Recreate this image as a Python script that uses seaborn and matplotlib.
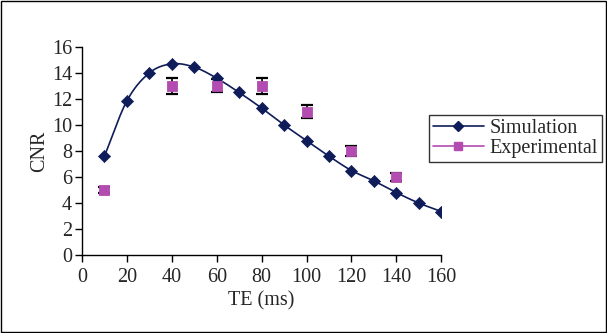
import numpy as np
import pandas as pd
import matplotlib
matplotlib.use('Agg')
import matplotlib.pyplot as plt
from matplotlib.patches import Rectangle
from matplotlib.lines import Line2D
import seaborn as sns

# Datos
te_sim = [10, 20, 30, 40, 50, 60, 70, 80, 90, 100, 110, 120, 130, 140, 150, 160]
cnr_sim = [7.6, 11.85, 14.0, 14.7, 14.45, 13.6, 12.5, 11.3, 10.0, 8.8,
           7.6, 6.5, 5.7, 4.8, 4.0, 3.35]

te_exp = [10, 40, 60, 80, 100, 120, 140]
cnr_exp = [5.0, 13.0, 13.0, 13.0, 11.0, 8.0, 6.0]
err_exp = [0.2, 0.6, 0.5, 0.6, 0.5, 0.4, 0.3]

x_ticks = [0, 20, 40, 60, 80, 100, 120, 140, 160]
y_ticks = [0, 2, 4, 6, 8, 10, 12, 14, 16]

SIM_COLOR = '#0f1c5a'
EXP_COLOR = '#b24cb0'
FS = 14.5

sns.set_style('ticks')
plt.rcParams['font.family'] = ['Liberation Serif', 'DejaVu Serif']


# Curva suavizada tipo Excel (Catmull-Rom) solo para el trazo de la linea
def suavizar(x, y, n=20):
    x = np.asarray(x, float)
    y = np.asarray(y, float)
    px = np.concatenate([[2 * x[0] - x[1]], x, [2 * x[-1] - x[-2]]])
    py = np.concatenate([[2 * y[0] - y[1]], y, [2 * y[-1] - y[-2]]])
    xs, ys = [], []
    t = np.linspace(0, 1, n, endpoint=False)
    for i in range(1, len(px) - 2):
        for arr, out in ((px, xs), (py, ys)):
            p0, p1, p2, p3 = arr[i - 1], arr[i], arr[i + 1], arr[i + 2]
            out.extend(0.5 * (2 * p1 + (-p0 + p2) * t
                              + (2 * p0 - 5 * p1 + 4 * p2 - p3) * t ** 2
                              + (-p0 + 3 * p1 - 3 * p2 + p3) * t ** 3))
    xs.append(x[-1])
    ys.append(y[-1])
    return np.array(xs), np.array(ys)


df_sim = pd.DataFrame({'TE': te_sim, 'CNR': cnr_sim})
df_exp = pd.DataFrame({'TE': te_exp, 'CNR': cnr_exp, 'err': err_exp})
xs, ys = suavizar(te_sim, cnr_sim)
df_curve = pd.DataFrame({'TE': xs, 'CNR': ys})

fig = plt.figure(figsize=(6.07, 3.33), dpi=100)
ax = fig.add_axes([0.135, 0.234, 0.592, 0.625])

sns.lineplot(data=df_curve, x='TE', y='CNR', ax=ax, color=SIM_COLOR,
             linewidth=1.2, sort=False, estimator=None)
sns.scatterplot(data=df_sim, x='TE', y='CNR', ax=ax, marker='D', s=38,
                color=SIM_COLOR, edgecolor=SIM_COLOR, zorder=4)

ax.errorbar(df_exp['TE'], df_exp['CNR'], yerr=df_exp['err'], fmt='none',
            ecolor='black', elinewidth=1.2, capsize=4, capthick=1.6, zorder=3)
sns.scatterplot(data=df_exp, x='TE', y='CNR', ax=ax, marker='s', s=55,
                color=EXP_COLOR, edgecolor=EXP_COLOR, zorder=5)

ax.set_xlim(0, 160)
ax.set_ylim(0, 16)
ax.set_xticks(x_ticks)
ax.set_yticks(y_ticks)
ax.tick_params(axis='both', labelsize=FS, length=5, width=1, color='black',
               direction='out', pad=2)
ax.tick_params(axis='x', pad=4)
ax.set_xlabel('TE (ms)', fontsize=FS, labelpad=3)
ax.set_ylabel('CNR', fontsize=FS, labelpad=2)
for s in ['top', 'right']:
    ax.spines[s].set_visible(False)
for s in ['left', 'bottom']:
    ax.spines[s].set_color('black')
    ax.spines[s].set_linewidth(1)
ax.margins(0)

handles = [
    Line2D([], [], color=SIM_COLOR, marker='D', markersize=5, linewidth=1.2),
    Line2D([], [], color=EXP_COLOR, marker='s', markersize=6, linewidth=1.2),
]
leg = fig.legend(handles, ['Simulation', 'Experimental'],
                 loc='upper left', bbox_to_anchor=(0.707, 0.655),
                 borderaxespad=0, fontsize=FS, frameon=True, fancybox=False,
                 handlelength=2.5, handletextpad=0.3, borderpad=0.2,
                 labelspacing=0.05)
leg.get_frame().set_edgecolor('black')
leg.get_frame().set_linewidth(1)

# Marco exterior de la figura
fig.patches.append(Rectangle((0.001, 0.002), 0.997, 0.995,
                             transform=fig.transFigure, fill=False,
                             edgecolor='black', linewidth=1))

fig.savefig('out.png', dpi=100)
